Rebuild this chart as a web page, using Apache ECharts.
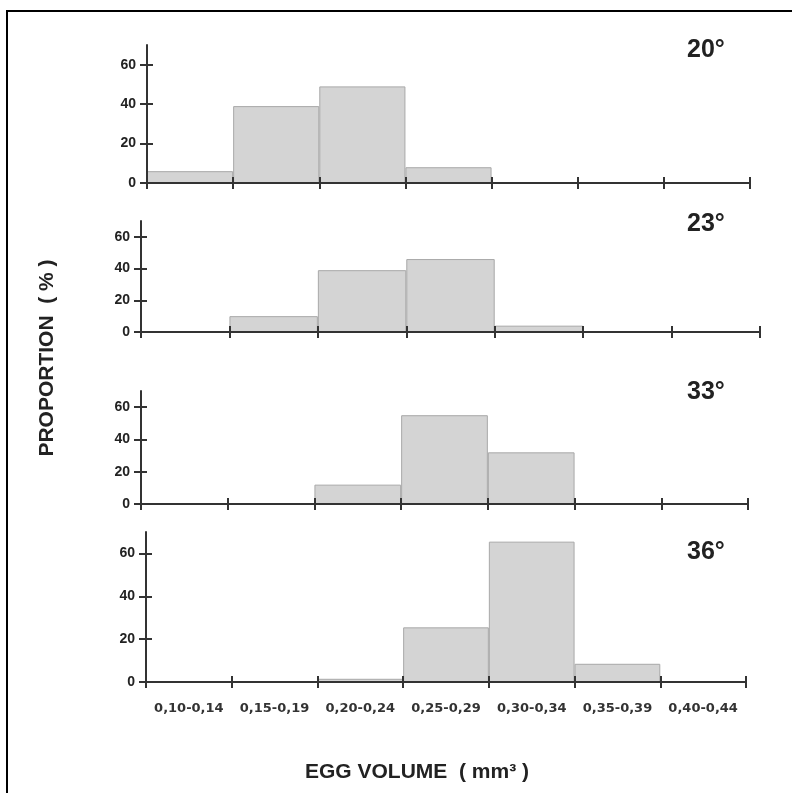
<!DOCTYPE html>
<html>
<head>
<meta charset="utf-8">
<title>Egg volume</title>
<script src="https://cdn.jsdelivr.net/npm/echarts@6/dist/echarts.min.js"></script>
</head>
<body style="margin:0;background:#fff;">
<div id="main" style="width:792px;height:793px;"></div>
<script>
    // egg volume classes (mm3)
    var categories = ['0,10-0,14', '0,15-0,19', '0,20-0,24', '0,25-0,29', '0,30-0,34', '0,35-0,39', '0,40-0,44'];
    var temps = ['20°', '23°', '33°', '36°'];
    var t20 = [6, 39, 49, 8, 0, 0, 0];
    var t23 = [0, 10, 39, 46, 4, 0, 0];
    var t33 = [0, 0, 12, 55, 32, 0, 0];
    var t36 = [0, 0, 1.5, 25.5, 65.5, 8.5, 0];
    var yTicks = [0, 20, 40, 60];
    var allData = [t20, t23, t33, t36];

    // panel boxes in px
    var grids = [
        {left: 147, right: 42, top: 45, bottom: 610},
        {left: 141, right: 32, top: 221, bottom: 461},
        {left: 141, right: 44, top: 391, bottom: 289},
        {left: 146, right: 46, top: 532, bottom: 111}
    ];
    var tempY = [52, 226, 394, 554];

    var axisColor = '#333';
    var xAxes = [], yAxes = [], series = [], graphic = [];

    grids.forEach(function (g, i) {
        var last = i === grids.length - 1;
        xAxes.push({
            type: 'category', gridIndex: i, data: categories, position: 'bottom', z: 3,
            axisLine: {lineStyle: {color: axisColor, width: 2}},
            axisTick: {show: true, interval: 0, length: 6, lineStyle: {color: axisColor, width: 2}},
            axisLabel: {
                show: last, interval: 0, margin: 20, color: '#333',
                fontFamily: 'DejaVu Sans', fontWeight: 'bold', fontSize: 13
            },
            splitLine: {show: false}
        });
        // inner half of the crossing ticks
        xAxes.push({
            type: 'category', gridIndex: i, data: categories, position: 'bottom', z: 3,
            axisLine: {show: false},
            axisTick: {show: true, interval: 0, inside: true, length: 6, lineStyle: {color: axisColor, width: 2}},
            axisLabel: {show: false},
            splitLine: {show: false}
        });
        yAxes.push({
            type: 'value', gridIndex: i, min: 0, max: 70, interval: 20, position: 'left', z: 3,
            axisLine: {show: true, lineStyle: {color: axisColor, width: 2}},
            axisTick: {show: true, length: 7, customValues: yTicks, lineStyle: {color: axisColor, width: 2}},
            axisLabel: {
                margin: 11, customValues: yTicks, color: '#222',
                fontFamily: 'Liberation Sans Narrow, Liberation Sans', fontWeight: 'bold', fontSize: 14
            },
            splitLine: {show: false}
        });
        yAxes.push({
            type: 'value', gridIndex: i, min: 0, max: 70, interval: 20, position: 'left', z: 3,
            axisLine: {show: false},
            axisTick: {show: true, inside: true, length: 6, customValues: yTicks, lineStyle: {color: axisColor, width: 2}},
            axisLabel: {show: false},
            splitLine: {show: false}
        });
        series.push({
            type: 'bar',
            xAxisIndex: i * 2,
            yAxisIndex: i * 2,
            data: allData[i],
            barCategoryGap: '0%',
            itemStyle: {color: '#d4d4d4', borderColor: '#a8a8a8', borderWidth: 1},
            silent: true
        });
        graphic.push({
            type: 'text', left: 687, top: tempY[i] - 14,
            style: {
                text: temps[i], fill: '#222',
                font: 'bold 25px "Liberation Sans", Arial, sans-serif'
            }
        });
    });

    // frame lines
    graphic.push({type: 'line', shape: {x1: 6, y1: 11, x2: 792, y2: 11}, style: {stroke: '#000', lineWidth: 2}});
    graphic.push({type: 'line', shape: {x1: 7, y1: 11, x2: 7, y2: 793}, style: {stroke: '#000', lineWidth: 2}});

    // axis titles
    graphic.push({
        type: 'text', x: 47, y: 358, rotation: Math.PI / 2,
        style: {
            text: 'PROPORTION  ( % )', fill: '#222', align: 'center', verticalAlign: 'middle',
            font: 'bold 21px "Liberation Sans", Arial, sans-serif'
        }
    });
    graphic.push({
        type: 'text', x: 417, y: 772,
        style: {
            text: 'EGG VOLUME  ( mm³ )', fill: '#222', align: 'center', verticalAlign: 'middle',
            font: 'bold 21px "Liberation Sans", Arial, sans-serif'
        }
    });

    var myChart = echarts.init(document.getElementById('main'));
    myChart.setOption({
        animation: false,
        backgroundColor: '#fff',
        grid: grids,
        xAxis: xAxes,
        yAxis: yAxes,
        series: series,
        graphic: graphic
    });
</script>
</body>
</html>
